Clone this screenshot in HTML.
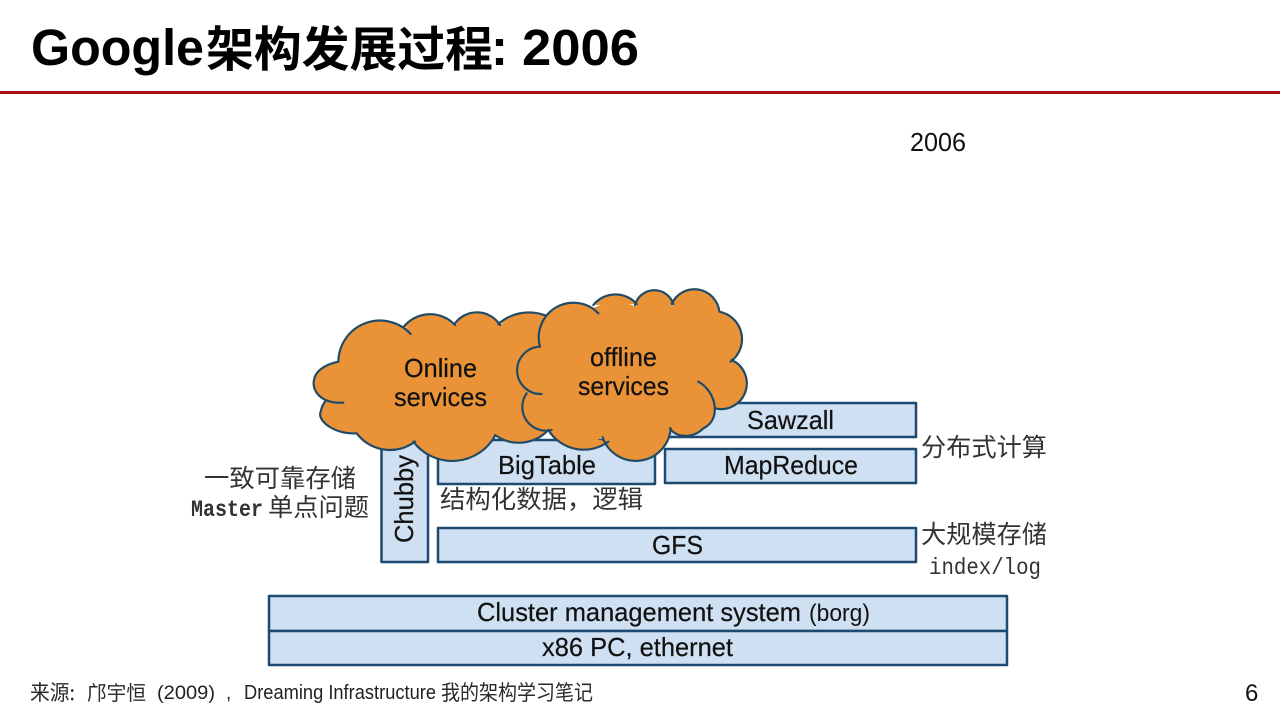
<!DOCTYPE html>
<html lang="zh"><head><meta charset="utf-8"><title>Google架构发展过程: 2006</title>
<style>
html,body{margin:0;padding:0;background:#fff;width:1280px;height:720px;overflow:hidden}
svg{display:block}
text{font-family:"Liberation Sans","Noto Sans CJK SC",sans-serif;fill:#111}
.lbl{stroke:#111;stroke-width:.2}
.cjk{font-family:"Noto Sans CJK SC","Liberation Sans",sans-serif;fill:#333}
.mono{font-family:"Liberation Mono","Noto Sans CJK SC",monospace;fill:#333}
.box{fill:#cfe0f2;stroke:#1c4a70;stroke-width:2.5;stroke-linejoin:round}
.cl{fill:#e99237;stroke:#1f4a68;stroke-width:6.500;stroke-linejoin:round;stroke-linecap:round}
.ci{fill:#e99237;stroke:#e99237;stroke-width:2}
.t{fill:#000;font-weight:700}
.tc{font-family:"Noto Sans CJK SC","Liberation Sans",sans-serif;fill:#000;font-weight:700}
.f{fill:#222}
.fc{font-family:"Noto Sans CJK SC","Liberation Sans",sans-serif;fill:#2a2a2a;font-weight:400}
</style></head><body>
<svg width="1280" height="720" viewBox="0 0 1280 720" xmlns="http://www.w3.org/2000/svg">
<rect x="0" y="0" width="1280" height="720" fill="#fff"/>
<text class="t" x="31" y="65" font-size="51" textLength="173" lengthAdjust="spacingAndGlyphs">Google</text>
<text class="tc" x="206" y="66" font-size="48" textLength="287" lengthAdjust="spacingAndGlyphs">架构发展过程</text>
<text class="t" x="491" y="65" font-size="51">:</text>
<text class="t" x="522" y="65" font-size="51" textLength="117" lengthAdjust="spacingAndGlyphs">2006</text>
<rect x="0" y="91" width="1280" height="3" fill="#a80f14"/>
<text x="910" y="151" font-size="26" textLength="56" lengthAdjust="spacingAndGlyphs">2006</text>

<rect class="box" x="660" y="403" width="256" height="34"/>
<rect class="box" x="665" y="449" width="251" height="34"/>
<rect class="box" x="438" y="440" width="217" height="44"/>
<rect class="box" x="438" y="528" width="478" height="34"/>
<rect class="box" x="381.500" y="440" width="46.500" height="122"/>
<rect class="box" x="269" y="596" width="738" height="35"/>
<rect class="box" x="269" y="631" width="738" height="34"/>

<g transform="translate(300,280) scale(.33333)">
<polygon class="ci" points="115,245 170,165 240,145 310,148 340,135 390,115 465,135 530,105 600,135 670,110 745,115 780,300 745,450 665,480 585,468 460,530 340,485 250,495 170,460 80,425 75,365 130,368"/>
<path class="cl" d="M115,245 A125,125 0 0 1 332,162 M310,142 A102,102 0 0 1 465,135 M465,130 A82,82 0 0 1 600,135 M595,132 A140,140 0 0 1 745,110 M745,450 A122,122 0 0 1 585,465 M585,468 A147,147 0 0 1 340,485 M345,485 A125,125 0 0 1 170,460 M170,460 C110,465 50,425 62,395 C65,380 70,372 75,365 M130,368 C60,372 35,330 42,300 C48,265 90,250 115,245"/>
<polygon class="ci" points="720,200 770,100 830,85 880,85 905,75 950,60 1005,80 1060,38 1115,78 1185,42 1258,100 1310,170 1292,245 1330,310 1245,385 1210,445 1110,445 1010,530 908,472 830,500 755,450 690,410 680,340 725,342 665,270"/>
<path class="cl" d="M720,200 A104,104 0 0 1 895,100 M880,75 A85,85 0 0 1 1010,72 M1005,75 A60,60 0 0 1 1120,72 M1115,72 A75,75 0 0 1 1258,95 M1258,95 A84,84 0 0 1 1292,245 M1295,240 A77,77 0 0 1 1245,385 M1195,305 C1250,335 1265,420 1210,445 C1180,475 1130,475 1110,445 M1112,445 A105,105 0 0 1 908,472 M925,485 A125,125 0 0 1 745,450 M755,450 A71,71 0 0 1 680,340 M725,342 A71,71 0 0 1 720,200"/>
</g>

<text class="lbl" x="404" y="377" font-size="26" textLength="73" lengthAdjust="spacingAndGlyphs">Online</text>
<text class="lbl" x="394" y="406" font-size="26" textLength="93" lengthAdjust="spacingAndGlyphs">services</text>
<text class="lbl" x="590" y="366" font-size="26" textLength="67" lengthAdjust="spacingAndGlyphs">offline</text>
<text class="lbl" x="578" y="395" font-size="26" textLength="91" lengthAdjust="spacingAndGlyphs">services</text>

<text class="lbl" x="747" y="429" font-size="26" textLength="87" lengthAdjust="spacingAndGlyphs">Sawzall</text>
<text class="lbl" x="724" y="474" font-size="26" textLength="134" lengthAdjust="spacingAndGlyphs">MapReduce</text>
<text class="lbl" x="498" y="474" font-size="26" textLength="98" lengthAdjust="spacingAndGlyphs">BigTable</text>
<text class="lbl" x="652" y="554" font-size="26" textLength="51" lengthAdjust="spacingAndGlyphs">GFS</text>
<text class="lbl" transform="translate(413,543) rotate(-90)" font-size="26" textLength="88" lengthAdjust="spacingAndGlyphs">Chubby</text>
<text class="lbl" x="477" y="621" font-size="26" textLength="324" lengthAdjust="spacingAndGlyphs">Cluster management system</text>
<text x="809" y="621" font-size="24" textLength="61" lengthAdjust="spacingAndGlyphs">(borg)</text>
<text class="lbl" x="542" y="656" font-size="26" textLength="191" lengthAdjust="spacingAndGlyphs">x86 PC, ethernet</text>

<text class="cjk" x="204" y="487" font-size="25" textLength="152" lengthAdjust="spacingAndGlyphs">一致可靠存储</text>
<text class="mono" x="191" y="516" font-size="23" font-weight="700" textLength="72" lengthAdjust="spacingAndGlyphs">Master</text>
<text class="cjk" x="268" y="516" font-size="25" textLength="101" lengthAdjust="spacingAndGlyphs">单点问题</text>
<text class="cjk" x="440" y="508" font-size="25" textLength="203" lengthAdjust="spacingAndGlyphs">结构化数据，逻辑</text>
<text class="cjk" x="921" y="456" font-size="25" textLength="126" lengthAdjust="spacingAndGlyphs">分布式计算</text>
<text class="cjk" x="921" y="543" font-size="25" textLength="126" lengthAdjust="spacingAndGlyphs">大规模存储</text>
<text class="mono" x="929" y="574" font-size="23" textLength="112" lengthAdjust="spacingAndGlyphs">index/log</text>

<text class="fc" x="30" y="700" font-size="21" textLength="45" lengthAdjust="spacingAndGlyphs">来源:</text>
<text class="fc" x="87" y="700" font-size="20" textLength="59" lengthAdjust="spacingAndGlyphs">邝宇恒</text>
<text class="f" x="157" y="699" font-size="19" textLength="58" lengthAdjust="spacingAndGlyphs">(2009)</text>
<text class="f" x="226" y="699" font-size="19">,</text>
<text class="f" x="244" y="699" font-size="20" textLength="192" lengthAdjust="spacingAndGlyphs">Dreaming Infrastructure</text>
<text class="fc" x="441" y="700" font-size="21" textLength="152" lengthAdjust="spacingAndGlyphs">我的架构学习笔记</text>
<text x="1245" y="701" font-size="24">6</text>
</svg>
</body></html>
